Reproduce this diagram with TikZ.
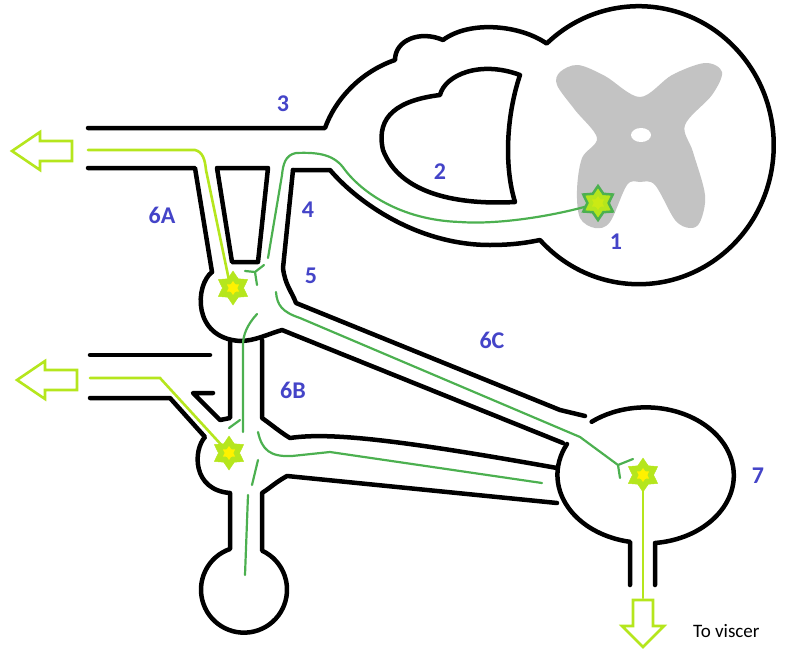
\documentclass[tikz,border=0pt]{standalone}
\usepackage{fontspec}
\setmainfont{Carlito}
\usetikzlibrary{shapes.geometric}
\definecolor{dg}{RGB}{76,176,80}
\definecolor{lg}{RGB}{181,230,29}
\definecolor{yl}{RGB}{255,242,0}
\definecolor{lb}{RGB}{68,68,200}
\definecolor{gr}{RGB}{195,195,195}
\begin{document}
\begin{tikzpicture}[x=1pt,y=-1pt,
  wall/.style={line width=4.5pt,line cap=round,line join=round},
  dfib/.style={dg,line width=2.2pt,line cap=round},
  lfib/.style={lg,line width=2.6pt,line cap=round},
  harrow/.style={lg,line width=2.6pt,fill=white,line join=miter},
  lab/.style={text=lb,font=\fontsize{24}{28}\selectfont\bfseries,inner sep=0pt},
  starl/.style={star,star points=6,star point ratio=1.6,minimum size=34pt,inner sep=0pt,fill=lg,draw=lg},
  stary/.style={star,star points=6,star point ratio=1.6,minimum size=14pt,inner sep=0pt,fill=yl}]
\useasboundingbox (0,0) rectangle (794,656);
% gray matter
\fill[gr] plot[smooth cycle,tension=0.55] coordinates {(560,72) (578,65) (605,76) (640,97) (672,75) (705,63) (722,72) (712,95) (685,125) (693,152) (705,195) (700,222) (690,228) (675,220) (655,185) (640,182) (627,185) (610,222) (595,228) (580,218) (577,190) (582,158) (597,138) (575,110) (557,85)};
\fill[white] (641,135) ellipse[x radius=10,y radius=7];
% spinal cord and dorsal root outline
\draw[wall] (293,170) -- (330,170) .. controls (360,205) and (420,245) .. (490,245) .. controls (515,245) and (530,242) .. (540,240)
  arc[start angle=-223,end angle=-493,x radius=135,y radius=139]
  .. controls (520,25) and (470,20) .. (443,40) .. controls (420,30) and (395,40) .. (395,60)
  .. controls (360,72) and (335,100) .. (325,128) -- (88,128);
\draw[wall] (520,75) .. controls (505,120) and (505,170) .. (515,202) .. controls (460,205) and (400,195) .. (383,150)
  .. controls (375,115) and (400,100) .. (440,95) .. controls (445,75) and (480,60) .. (520,75) -- cycle;
% 6A / 4 rami
\draw[wall] (88,168) -- (195,168) -- (212,272);
\draw[wall] (217,168) -- (268,168) -- (258,262) -- (232,262) -- cycle;
\draw[wall] (293,170) -- (283,268) .. controls (285,285) and (292,292) .. (296,303) -- (560,410) -- (585,416);
% ganglion 5
\draw[wall] (212,272) .. controls (195,285) and (192,338) .. (240,341) .. controls (255,341) and (268,334) .. (282,330) -- (563,443);
% chain
\draw[wall] (213,393) -- (193,393) -- (220,420) -- (230,418) -- (230,340);
\draw[wall] (262,340) -- (262,418) .. controls (272,425) and (280,432) .. (290,438) .. controls (330,432) and (400,440) .. (557,468);
\draw[wall] (90,355) -- (210,355);
\draw[wall] (90,398) -- (170,398) -- (205,437) .. controls (193,450) and (192,490) .. (230,493) -- (230,549)
  arc[start angle=-109,end angle=-425,radius=43] -- (262,493) .. controls (270,488) and (276,482) .. (287,476) -- (557,503);
% ganglion 7
\draw[wall] (567,444) arc[start angle=-153,end angle=-260,x radius=88,y radius=68] -- (630,585);
\draw[wall] (655,585) -- (655,543) arc[start angle=-276,end angle=-488,x radius=88,y radius=68];
% dark fibres
\draw[dfib] (598,203) .. controls (560,215) and (500,225) .. (460,222) .. controls (400,220) and (362,192) .. (345,170)
  .. controls (335,155) and (320,152) .. (296,153) .. controls (285,155) and (283,165) .. (282,175) -- (268,258);
\draw[dfib] (245,271) -- (255,272) -- (264,265) (255,272) -- (257,285);
\draw[dfib] (276,292) .. controls (277,305) and (282,312) .. (300,318) -- (580,437) -- (618,465) -- (633,459) (618,465) -- (620,478);
\draw[dfib] (257,314) .. controls (247,325) and (243,335) .. (243,345) -- (243,432);
\draw[dfib] (229,428) -- (240,420);
\draw[dfib] (258,460) -- (252,485);
\draw[dfib] (248,495) -- (245,575);
\draw[dfib] (258,432) .. controls (262,450) and (270,457) .. (292,456) -- (330,452) -- (542,483);
% light fibres
\draw[lfib] (88,150) -- (195,150) .. controls (203,152) and (205,160) .. (206,170) -- (230,285);
\draw[lfib] (90,378) -- (160,378) -- (226,450);
\draw[lfib] (643,478) -- (643,598);
% hollow arrows
\draw[harrow] (12,151) -- (40,132) -- (40,141) -- (72,141) -- (72,161) -- (40,161) -- (40,170) -- cycle;
\draw[harrow] (17,380) -- (45,361) -- (45,370) -- (77,370) -- (77,390) -- (45,390) -- (45,399) -- cycle;
\draw[harrow] (643,647) -- (622,626) -- (633,626) -- (633,600) -- (653,600) -- (653,626) -- (664,626) -- cycle;
% neurons
\node[starl,draw=dg,line width=2.5pt] (n1) at (598,203) {};
\node[stary,fill=lg!70!yl] at (598,203) {};
\node[starl] (n5) at (233,288) {};
\node[stary] at (233,288) {};
\node[starl] (n6) at (229,453) {};
\node[stary] at (229,453) {};
\node[starl] (n7) at (643,475) {};
\node[stary] at (643,475) {};
% labels
\node[lab] at (283,104) {3};
\node[lab] at (440,172) {2};
\node[lab] at (308,210) {4};
\node[lab] at (162,215) {6A};
\node[lab] at (311,276) {5};
\node[lab] at (616,242) {1};
\node[lab] at (492,340) {6C};
\node[lab] at (293,390) {6B};
\node[lab] at (758,476) {7};
\node[anchor=west,inner sep=0pt,font=\fontsize{19}{22}\selectfont] at (693,631) {To viscer};
\end{tikzpicture}
\end{document}
